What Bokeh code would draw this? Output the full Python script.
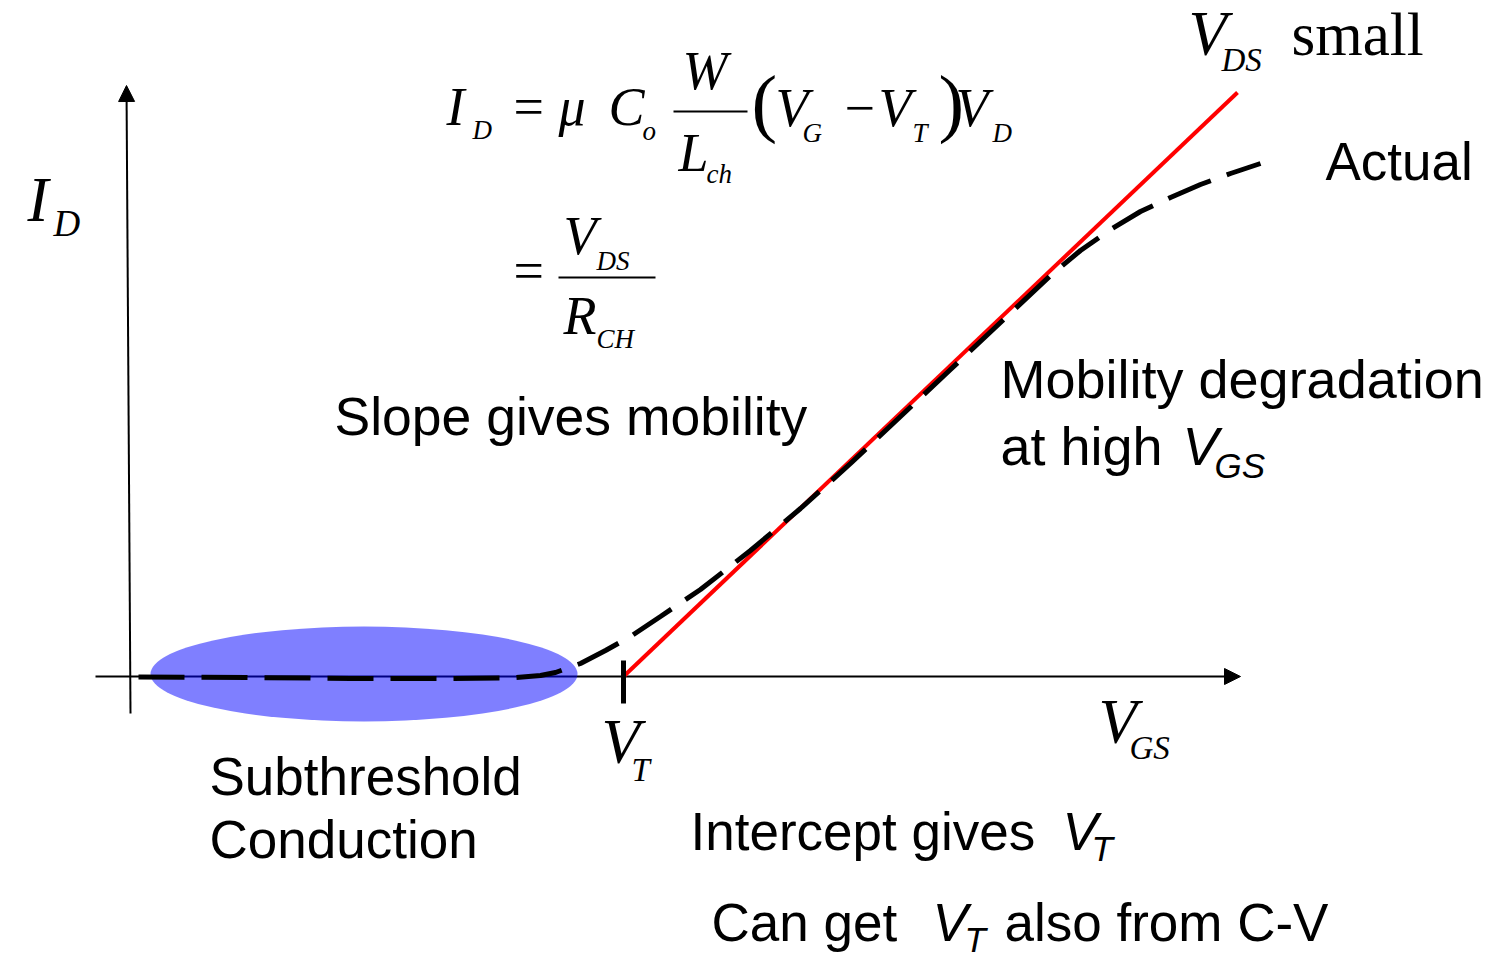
from bokeh.plotting import figure
from bokeh.models import Range1d, Arrow, NormalHead, ColumnDataSource
from bokeh.core.properties import value, field
from bokeh.embed import file_html
from bokeh.resources import INLINE

# ---- data (arbitrary units: V_GS along x, I_D along y, origin at axis crossing) ----
VT = 495
vgs_actual = [10, 122, 222, 322, 382, 412, 427, 452, 477, 502, 532, 572, 622, 672,
              722, 772, 822, 872, 922, 952, 982, 1012, 1042, 1072, 1102, 1132]
id_actual = [-0.5, -1, -2, -2, -1.5, 1, 4, 13, 26, 40, 60, 87, 126, 168,
             213, 260, 307, 354, 401, 426, 447, 465, 479, 492, 503, 513]
vgs_ideal = [VT, 1109]
id_ideal = [0, 584]

# subthreshold region ellipse (centre, width, height in data units)
sub_x, sub_y, sub_w, sub_h = 235.5, 2.5, 427, 95

# ---- layout helpers (picture pixel -> data) ----
X0, Y0 = 128, 676
def P(px, py):
    return px - X0, Y0 - py

W, H = 1485, 959
p = figure(width=W, height=H, output_backend="svg", toolbar_location=None,
           x_range=Range1d(-X0, W - X0), y_range=Range1d(Y0 - H, Y0),
           min_border=0)
p.axis.visible = False
p.grid.visible = False
p.outline_line_color = None
p.background_fill_color = "white"

# axes as arrows
xa0, xa1 = -33, 1112
ya0, ya1 = -37, 591
p.add_layout(Arrow(end=NormalHead(size=16, fill_color="black", line_color="black"),
                   x_start=xa0, y_start=0, x_end=xa1, y_end=0,
                   line_width=2, line_color="black", level="underlay"))
p.add_layout(Arrow(end=NormalHead(size=16, fill_color="black", line_color="black"),
                   x_start=2, y_start=ya0, x_end=-2, y_end=ya1,
                   line_width=2, line_color="black", level="underlay"))

# subthreshold ellipse (semi-transparent blue)
p.ellipse(x=[sub_x], y=[sub_y], width=[sub_w], height=[sub_h],
          fill_color="blue", fill_alpha=0.5, line_color=None)

# ideal (red) line, then actual (dashed)
p.line(vgs_ideal, id_ideal, line_color="red", line_width=4)
p.line(vgs_actual, id_actual, line_color="black", line_width=5, line_dash="46 17")

# V_T tick
p.segment(x0=[VT], y0=[16], x1=[VT], y1=[-27], line_color="black", line_width=5)

# fraction bars
bars = [(673, 747, 111), (558, 655, 277)]
bx0, by0 = zip(*[P(a, c) for a, b, c in bars])
bx1, by1 = zip(*[P(b, c) for a, b, c in bars])
p.segment(x0=list(bx0), y0=list(by0), x1=list(bx1), y1=list(by1),
          line_color="black", line_width=2)

# ---- text (picture pixel position of left/baseline, text, size) ----
serif_italic = [
    (27, 223, "I", 63), (53, 237, "D", 37),
    (446, 126, "I", 54), (472, 139, "D", 27), (558, 126, "μ", 54), (608, 126, "C", 54),
    (642, 140, "o", 27),
    (682, 90, "W", 54), (678, 172, "L", 54), (706, 183, "ch", 27),
    (775, 127, "V", 54), (802, 142, "G", 27), (878, 127, "V", 54), (912, 142, "T", 27),
    (955, 127, "V", 54), (992, 142, "D", 27),
    (563, 255, "V", 54), (596, 270, "DS", 27), (563, 335, "R", 54), (596, 348, "CH", 27),
    (1188, 57, "V", 63), (1221, 72, "DS", 33),
    (601, 765, "V", 63), (631, 782, "T", 33),
    (1098, 745, "V", 63), (1129, 760, "GS", 33),
]
serif_normal = [
    (513, 126, "=", 54), (751, 130, "(", 77), (844, 127, "−", 54), (938, 130, ")", 77),
    (513, 290, "=", 54), (1291, 57, "small", 61),
]
sans_normal = [
    (1325, 182, "Actual", 53), (334, 437, "Slope gives mobility", 53.5),
    (1000, 400, "Mobility degradation", 54), (1000, 467, "at high", 54),
    (209, 797, "Subthreshold", 53), (209, 860, "Conduction", 53),
    (690, 852, "Intercept gives", 53), (711, 943, "Can get", 53),
    (1004, 943, "also from C-V", 53),
]
sans_italic = [
    (1182, 467, "V", 54), (1214, 479, "GS", 35),
    (1062, 852, "V", 53), (1091, 862, "T", 35),
    (932, 943, "V", 53), (964, 953, "T", 35),
]

def add_text(items, font, style, k):
    # k: correction of the renderer's baseline placement, as a fraction of the font size
    xs, ys = zip(*[P(a, b - k * s) for a, b, t, s in items])
    src = ColumnDataSource(dict(x=list(xs), y=list(ys),
                                text=[t for a, b, t, s in items],
                                size=[f"{s}px" for a, b, t, s in items]))
    p.text(x="x", y="y", text="text", source=src, text_font=value(font),
           text_font_style=style, text_font_size=field("size"),
           text_align="left", text_baseline="alphabetic", text_color="black")

add_text(serif_italic, "Liberation Serif", "italic", 0.37)
add_text(serif_normal, "Liberation Serif", "normal", 0.37)
add_text(sans_normal, "Liberation Sans", "normal", 0.40)
add_text(sans_italic, "Liberation Sans", "italic", 0.40)

open("out.html", "w").write(file_html(p, INLINE))
